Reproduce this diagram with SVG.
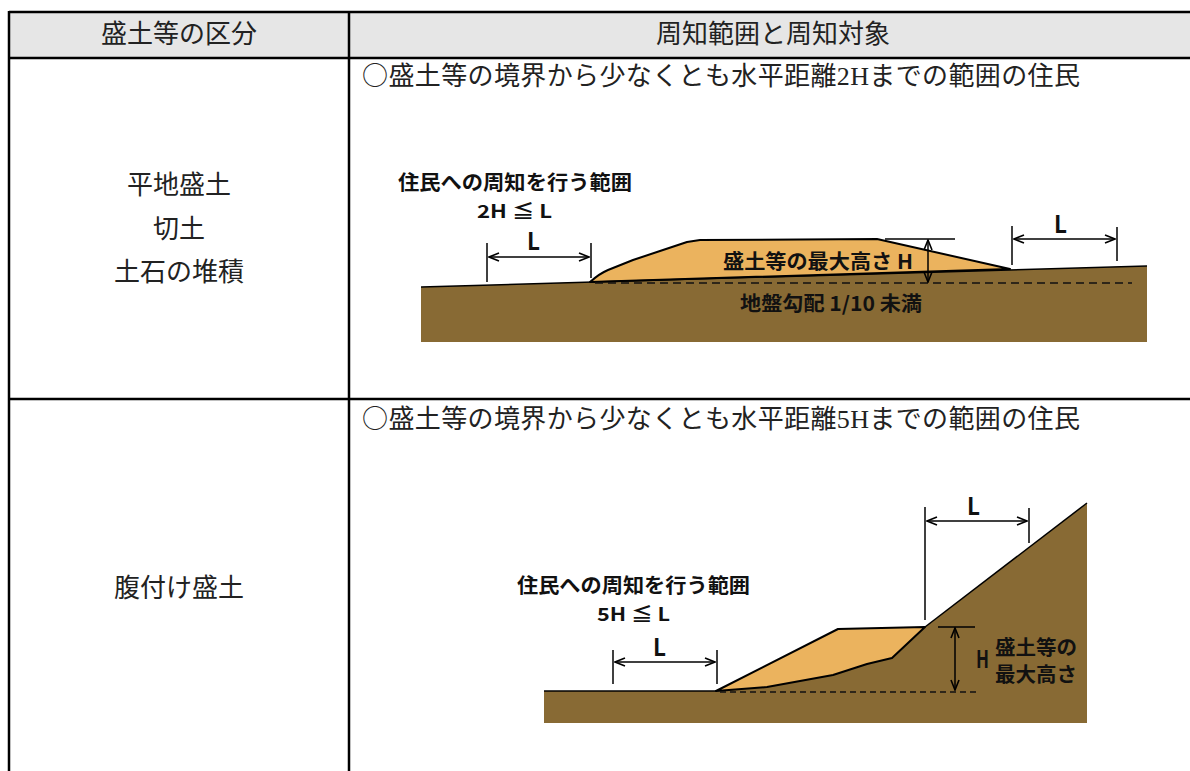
<svg xmlns="http://www.w3.org/2000/svg" width="1190" height="771" viewBox="0 0 1190 771">
<style>
.tl{stroke:#000;stroke-width:2.5;fill:none}
.cell{font-family:"Liberation Serif","Noto Sans CJK JP",serif;font-size:26px;fill:#222}
.cj{font-family:"Noto Sans CJK JP",sans-serif}
.lab{font-family:"Noto Sans CJK JP","Liberation Sans",sans-serif;font-weight:bold;font-size:20px;fill:#111}
.sm{font-family:"Noto Sans CJK JP","Liberation Sans",sans-serif;font-weight:bold;font-size:18px;fill:#111}
.ll{font-family:"Noto Sans CJK JP","Liberation Sans",sans-serif;font-weight:bold;font-size:24px;fill:#111}
.ln{stroke:#000;stroke-width:1.5;fill:none}
.dash{stroke:#111;stroke-width:1.5;stroke-dasharray:8 5;fill:none}
.earth{fill:#886A34}
.fill{fill:#EBB35E;stroke:#000;stroke-width:2;stroke-linejoin:round}
.arr{stroke:#000;stroke-width:1.5;fill:none;marker-start:url(#ah);marker-end:url(#ah)}
</style>
<defs>
<marker id="ah" viewBox="0 0 12 10" refX="11" refY="5" markerWidth="12" markerHeight="10" markerUnits="userSpaceOnUse" orient="auto-start-reverse">
<path d="M1,1 L11,5 L1,9" fill="none" stroke="#000" stroke-width="1.6"/>
</marker>
</defs>
<rect width="1190" height="771" fill="#fff"/>
<g id="table">
<rect x="9" y="12" width="1181" height="46" fill="#e6e6e6"/>
<line class="tl" x1="9" y1="12" x2="1190" y2="12"/>
<line class="tl" x1="9" y1="58" x2="1190" y2="58"/>
<line class="tl" x1="9" y1="399" x2="1190" y2="399"/>
<line class="tl" x1="9" y1="11" x2="9" y2="771"/>
<line class="tl" x1="349" y1="11" x2="349" y2="771"/>
</g>
<g id="header">
<text class="cell" x="179" y="43" text-anchor="middle">盛土等の区分</text>
<text class="cell" x="773" y="43" text-anchor="middle">周知範囲と周知対象</text>
</g>
<g id="row1-label">
<text class="cell" x="179" y="194" text-anchor="middle">平地盛土</text>
<text class="cell" x="179" y="238" text-anchor="middle">切土</text>
<text class="cell" x="179" y="281" text-anchor="middle">土石の堆積</text>
</g>
<g id="row1-text">
<text class="cell" x="362" y="85" textLength="718" lengthAdjust="spacing"><tspan class="cj">○</tspan>盛土等の境界から少なくとも水平距離2Hまでの範囲の住民</text>
</g>
<g id="row2-label">
<text class="cell" x="179" y="597" text-anchor="middle">腹付け盛土</text>
</g>
<g id="row2-text">
<text class="cell" x="362" y="428" textLength="718" lengthAdjust="spacing"><tspan class="cj">○</tspan>盛土等の境界から少なくとも水平距離5Hまでの範囲の住民</text>
</g>
<g id="diagram1">
<polygon class="earth" points="421,287 1147,266 1147,342 421,342"/>
<path class="fill" d="M590,282 C598,275 603,272 608,270 L633,260 L663,250 L687,242 L700,240 L877,239 L1010,269 Z"/>
<line class="ln" x1="421" y1="287" x2="1147" y2="266"/>
<line class="dash" x1="595" y1="283" x2="1132" y2="283"/>
<line class="ln" x1="885" y1="239" x2="955" y2="239"/>
<line class="ln" x1="487" y1="243" x2="487" y2="282"/>
<line class="ln" x1="591" y1="243" x2="591" y2="278"/>
<line class="ln" x1="1012" y1="226" x2="1012" y2="265"/>
<line class="ln" x1="1117" y1="227" x2="1117" y2="261"/>
<text class="lab" x="398" y="190" textLength="234" lengthAdjust="spacingAndGlyphs">住民への周知を行う範囲</text>
<text class="sm" x="477" y="218" textLength="75" lengthAdjust="spacingAndGlyphs">2H ≦ L</text>
<text class="ll" x="527" y="250" textLength="13" lengthAdjust="spacingAndGlyphs">L</text>
<text class="ll" x="1054" y="233" textLength="13" lengthAdjust="spacingAndGlyphs">L</text>
<text class="lab" x="723" y="269" textLength="190" lengthAdjust="spacingAndGlyphs">盛土等の最大高さ H</text>
<text class="lab" x="740" y="311" textLength="182" lengthAdjust="spacingAndGlyphs">地盤勾配 1/10 未満</text>
</g>
<g id="diagram2">
<polygon class="earth" points="544,691 716,691 767,687 833,675 867,664 892,658 925,627 1087,503 1087,723 544,723"/>
<polygon class="fill" points="716,691 838,629 925,627 892,658 867,664 833,675 767,687"/>
<line class="ln" x1="544" y1="691" x2="716" y2="691"/>
<line class="ln" x1="925" y1="627" x2="1087" y2="503"/>
<line class="dash" x1="720" y1="692" x2="977" y2="692" style="stroke-dasharray:6 4"/>
<line class="ln" x1="938" y1="627" x2="975" y2="627"/>
<line class="ln" x1="613" y1="650" x2="613" y2="684"/>
<line class="ln" x1="717" y1="650" x2="717" y2="684"/>
<line class="ln" x1="925" y1="507" x2="925" y2="620"/>
<line class="ln" x1="1029" y1="508" x2="1029" y2="543"/>
<text class="lab" x="517" y="593" textLength="233" lengthAdjust="spacingAndGlyphs">住民への周知を行う範囲</text>
<text class="sm" x="597" y="621" textLength="73" lengthAdjust="spacingAndGlyphs">5H ≦ L</text>
<text class="ll" x="653" y="656" textLength="13" lengthAdjust="spacingAndGlyphs">L</text>
<text class="ll" x="967" y="515" textLength="13" lengthAdjust="spacingAndGlyphs">L</text>
<text class="ll" x="976" y="668" textLength="13" lengthAdjust="spacingAndGlyphs">H</text>
<text class="lab" x="995" y="655" textLength="82" lengthAdjust="spacingAndGlyphs">盛土等の</text>
<text class="lab" x="995" y="682" textLength="82" lengthAdjust="spacingAndGlyphs">最大高さ</text>
</g>
<g id="connectors">
<line class="arr" x1="489" y1="257" x2="589" y2="257"/>
<line class="arr" x1="1014" y1="239" x2="1115" y2="239"/>
<line class="arr" x1="928" y1="240" x2="928" y2="282"/>
<line class="arr" x1="615" y1="662" x2="715" y2="662"/>
<line class="arr" x1="927" y1="521" x2="1027" y2="521"/>
<line class="arr" x1="955" y1="628" x2="955" y2="690"/>
</g>
</svg>
